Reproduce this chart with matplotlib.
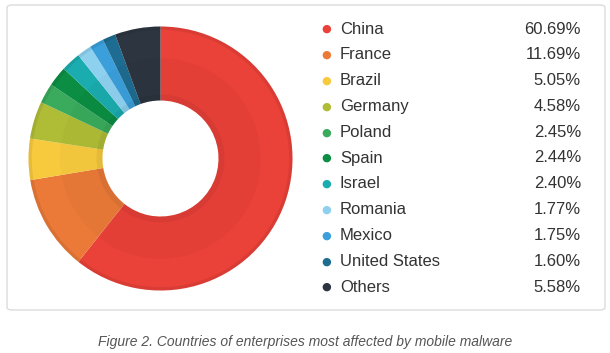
import matplotlib
matplotlib.use("Agg")
import matplotlib.pyplot as plt
from matplotlib.patches import FancyBboxPatch
import numpy as np

countries = ["China", "France", "Brazil", "Germany", "Poland", "Spain",
             "Israel", "Romania", "Mexico", "United States", "Others"]
shares = [60.69, 11.69, 5.05, 4.58, 2.45, 2.44, 2.40, 1.77, 1.75, 1.60, 5.58]
labels = ["60.69%", "11.69%", "5.05%", "4.58%", "2.45%", "2.44%",
          "2.40%", "1.77%", "1.75%", "1.60%", "5.58%"]
colors = ["#EA4138", "#EB7A38", "#F7CA3E", "#AFBD36", "#3AAA5C", "#0B8D43",
          "#1AACAF", "#8ED1EF", "#3A9FDB", "#1E6C92", "#2D3540"]
caption = "Figure 2. Countries of enterprises most affected by mobile malware"

W, H = 610, 353
plt.rcParams['font.family'] = ['Liberation Sans', 'DejaVu Sans']
fig = plt.figure(figsize=(W / 100, H / 100), dpi=100)

def fx(x):
    return x / W

def fy(y):
    return 1 - y / H

# border
border = FancyBboxPatch((fx(7), fy(310)), fx(605) - fx(7), fy(5) - fy(310),
                        boxstyle="round,pad=0,rounding_size=0.008",
                        transform=fig.transFigure, facecolor="white",
                        edgecolor="#dcdcdc", linewidth=1.0, zorder=-5)
fig.patches.append(border)

# donut
cx, cy, R = 160.5, 158.5, 132
half = 136
ax = fig.add_axes([fx(cx - half), fy(cy + half), 2 * half / W, 2 * half / H])
ax.patch.set_alpha(0)
ax.set_zorder(2)

inner = 58 / R
ax.pie(shares, colors=colors, startangle=90, counterclock=False, radius=1.0,
       wedgeprops=dict(width=1 - inner, linewidth=0))
# subtle shading rings
for r, w, a in [(1.0, 0.025, 0.07), (0.76, 0.76 - inner, 0.025), (inner + 0.045, 0.045, 0.05)]:
    ax.pie(shares, colors=[(0, 0, 0, a)] * len(shares), startangle=90,
           counterclock=False, radius=r, wedgeprops=dict(width=w, linewidth=0))
ax.set_aspect("auto")
ax.set_xlim(-half / R, half / R)
ax.set_ylim(-half / R, half / R)
ax.axis("off")

# legend
y0, dy = 29, 25.8
for i, (name, lab, col) in enumerate(zip(countries, labels, colors)):
    y = y0 + i * dy
    fig.text(fx(326.5), fy(y), "\u25CF", color=col, fontsize=8, ha="center", va="center",
             family=['DejaVu Sans'])
    fig.text(fx(340), fy(y), name, color="#333333", fontsize=12, ha="left", va="center")
    fig.text(fx(581), fy(y), lab, color="#333333", fontsize=12, ha="right", va="center")

fig.text(0.5, fy(342), caption, color="#555555", fontsize=10, style="italic",
         ha="center", va="center")

fig.savefig("out.png", dpi=100)
